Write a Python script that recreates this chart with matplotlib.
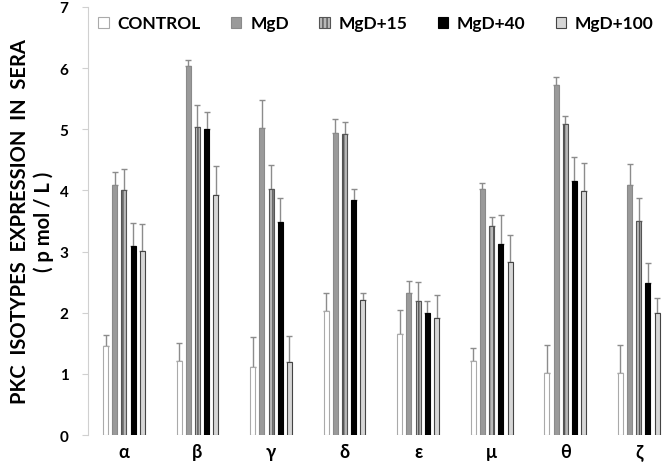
import matplotlib
matplotlib.use("Agg")
import matplotlib.pyplot as plt
import numpy as np

plt.rcParams['font.family'] = ['Lato', 'DejaVu Sans']
plt.rcParams['font.weight'] = 'bold'
plt.rcParams['hatch.color'] = '#777777'

categories = ['α', 'β', 'γ', 'δ', 'ε', 'μ', 'θ', 'ζ']
series = ['CONTROL', 'MgD', 'MgD+15', 'MgD+40', 'MgD+100']

control = [1.46, 1.21, 1.11, 2.03, 1.65, 1.22, 1.01, 1.01]
mgd = [4.09, 6.03, 5.02, 4.94, 2.33, 4.02, 5.72, 4.09]
mgd15 = [4.01, 5.03, 4.02, 4.92, 2.20, 3.42, 5.09, 3.50]
mgd40 = [3.09, 5.00, 3.49, 3.84, 2.00, 3.12, 4.16, 2.49]
mgd100 = [3.01, 3.92, 1.20, 2.21, 1.92, 2.83, 3.99, 1.99]

control_err = [0.18, 0.29, 0.50, 0.29, 0.40, 0.21, 0.46, 0.47]
mgd_err = [0.21, 0.11, 0.45, 0.22, 0.19, 0.10, 0.13, 0.35]
mgd15_err = [0.34, 0.36, 0.40, 0.20, 0.30, 0.14, 0.12, 0.38]
mgd40_err = [0.37, 0.28, 0.38, 0.19, 0.19, 0.48, 0.39, 0.32]
mgd100_err = [0.44, 0.48, 0.42, 0.12, 0.37, 0.44, 0.46, 0.26]

values = [control, mgd, mgd15, mgd40, mgd100]
errors = [control_err, mgd_err, mgd15_err, mgd40_err, mgd100_err]

faces = ['white', '#9a9a9a', '#b8b8b8', 'black', '#d6d6d6']
edges = ['#aaaaaa', '#8a8a8a', '#555555', 'black', '#444444']
hatches = [None, None, '||||', None, None]

fig = plt.figure(figsize=(6.66, 4.64), dpi=100)
ax = fig.add_axes([0.132, 0.060, 0.868, 0.923])

x = np.arange(len(categories))
pitch = 0.125
width = 0.068
for i, (vals, errs) in enumerate(zip(values, errors)):
    pos = x + (i - 2) * pitch
    ax.bar(pos, vals, width, color=faces[i], edgecolor=edges[i], linewidth=0.8,
           hatch=hatches[i], label=series[i], zorder=2)
    ax.errorbar(pos, vals, yerr=[np.zeros(len(errs)), errs], fmt='none',
                ecolor='#8c8c8c', elinewidth=1.0, capsize=2, capthick=1.0, zorder=1)

ax.set_ylim(0, 7)
ax.set_xlim(-0.49, 7.37)
ax.set_yticks(range(0, 8))
ax.set_xticks(x)
ax.set_xticklabels(categories, fontsize=13, fontweight='bold')
ax.tick_params(axis='y', labelsize=11, colors='#d0d0d0', labelcolor='black', length=4, width=0.8, pad=10)
ax.tick_params(axis='x', length=0, pad=6)
for s in ['top', 'right', 'bottom']:
    ax.spines[s].set_visible(False)
ax.spines['left'].set_color('#d0d0d0')
ax.spines['left'].set_linewidth(0.8)

ax.set_ylabel('PKC  ISOTYPES  EXPRESSION  IN  SERA\n( p mol / L )', fontsize=14.5,
              fontweight='bold', labelpad=4, linespacing=1.2)

leg = ax.legend(loc='upper left', bbox_to_anchor=(0.0, 1.005), ncol=5, frameon=False,
                fontsize=12.5, handlelength=0.6, handleheight=0.6, handletextpad=0.5,
                columnspacing=1.75, borderaxespad=0.2)
for t in leg.get_texts():
    t.set_fontweight('bold')

fig.savefig('out.png', dpi=100)
